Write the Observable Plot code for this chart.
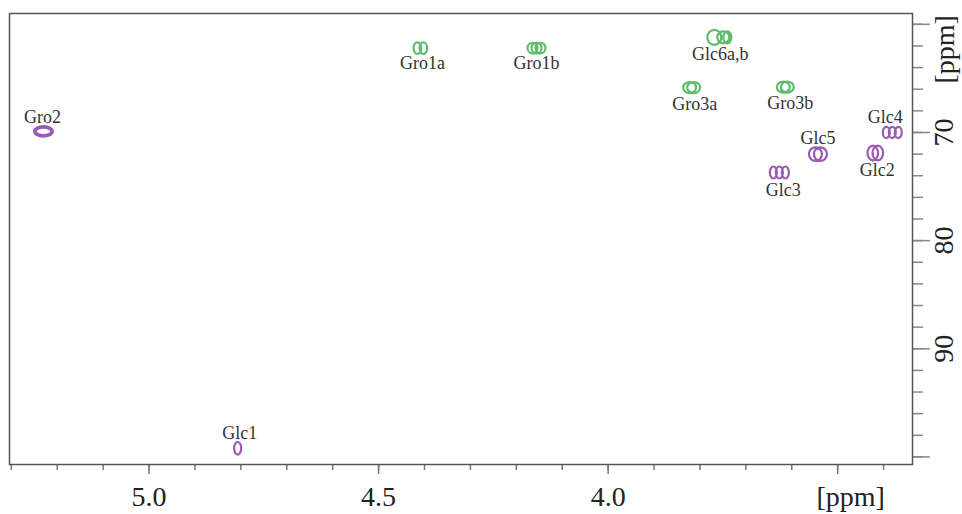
<!DOCTYPE html>
<html><head><meta charset="utf-8">
<script src="https://cdn.jsdelivr.net/npm/d3@7"></script>
<script src="https://cdn.jsdelivr.net/npm/@observablehq/plot@0.6"></script>
<style>html,body{margin:0;padding:0;background:#fff}</style>
</head><body><div id="chart"></div>
<script>
// ---- data ----
const peakLabels   = ["Gro1a","Gro1b","Glc6a,b","Gro3a","Gro3b","Gro2","Glc4","Glc5","Glc2","Glc3","Glc1"];
const protonShift  = [4.409, 4.156, 3.760, 3.818, 3.614, 5.230, 3.381, 3.543, 3.418, 3.627, 4.807];
const carbonShift  = [62.2, 62.2, 61.2, 65.85, 65.8, 69.9, 70.0, 72.0, 71.9, 73.7, 99.2];
const multiplicity = ["CH2","CH2","CH2","CH2","CH2","CH","CH","CH","CH","CH","CH"];

const xMajorTicks = [5.0, 4.5, 4.0, 3.5];
const xMinorTicks = [5.3,5.2,5.1,5.0,4.9,4.8,4.7,4.6,4.5,4.4,4.3,4.2,4.1,4.0,3.9,3.8,3.7,3.6,3.5,3.4];
const xTickLabels = ["5.0","4.5","4.0"];
const xTickLabelValues = [5.0, 4.5, 4.0];
const xUnitValue = [3.5];
const yMajorTicks = [60, 70, 80, 90, 100];
const yMinorTicks = [60,62,64,66,68,70,72,74,76,78,80,82,84,86,88,90,92,94,96,98,100];
const yTickLabels = ["70","80","90"];
const yTickLabelValues = [70, 80, 90];
const yUnitValue = [60];
const unitLabel = "[ppm]";

// ---- styles ----
const colors = {CH2: "#5fbc6c", CH: "#9a5cb2"};
const serif = "'Liberation Serif', 'DejaVu Serif', serif";
// contour shapes in pixels (lobes: dx offset, rx, ry)
const shapes = {
  "Gro1a":   [{dx:-3,rx:3.8,ry:5.8},{dx:3,rx:3.8,ry:5.8}],
  "Gro1b":   [{dx:-4,rx:5,ry:5.3},{dx:0,rx:5,ry:5.3},{dx:4,rx:5,ry:5.3}],
  "Glc6a,b": [{dx:-4,rx:7,ry:7.5},{dx:5,rx:6,ry:6},{dx:9,rx:4,ry:6}],
  "Gro3a":   [{dx:-2,rx:6.5,ry:5.5},{dx:2,rx:6.5,ry:5.5}],
  "Gro3b":   [{dx:-2,rx:6.5,ry:5.5},{dx:2,rx:6.5,ry:5.5}],
  "Gro2":    [{dx:0,rx:9.3,ry:5.2},{dx:0,rx:7.8,ry:3.8}],
  "Glc4":    [{dx:-6,rx:3.5,ry:5.6},{dx:0,rx:3.5,ry:5.6},{dx:6,rx:3.5,ry:5.6}],
  "Glc5":    [{dx:-2.5,rx:6.5,ry:6.8},{dx:2.5,rx:6.5,ry:6.8}],
  "Glc2":    [{dx:-2.5,rx:5.3,ry:7.3},{dx:2.5,rx:5.3,ry:7.3}],
  "Glc3":    [{dx:-6,rx:3.5,ry:6},{dx:0,rx:3.5,ry:6},{dx:6,rx:3.5,ry:6}],
  "Glc1":    [{dx:0,rx:3.5,ry:6.3}]
};
const labelOffset = {
  "Gro1a":[2,15], "Gro1b":[0,15], "Glc6a,b":[2,17], "Gro3a":[3,17], "Gro3b":[5,16],
  "Gro2":[-1,-14], "Glc4":[-7,-15], "Glc5":[0,-16], "Glc2":[2,17], "Glc3":[4,18], "Glc1":[2,-15]
};

function contourSymbol(lobes) {
  return {
    draw(ctx) {
      const k = 0.5523;
      for (const {dx, rx, ry} of lobes) {
        ctx.moveTo(dx + rx, 0);
        ctx.bezierCurveTo(dx + rx, k * ry, dx + k * rx, ry, dx, ry);
        ctx.bezierCurveTo(dx - k * rx, ry, dx - rx, k * ry, dx - rx, 0);
        ctx.bezierCurveTo(dx - rx, -k * ry, dx - k * rx, -ry, dx, -ry);
        ctx.bezierCurveTo(dx + k * rx, -ry, dx + rx, -k * ry, dx + rx, 0);
        ctx.closePath();
      }
    }
  };
}

const peaks = peakLabels.map((label, i) => ({label, h: protonShift[i], c: carbonShift[i], type: multiplicity[i]}));

const peakMarks = peaks.flatMap(p => [
  Plot.dot([p], {x: "h", y: "c", r: 6, symbol: contourSymbol(shapes[p.label]),
    stroke: colors[p.type], strokeWidth: 2.2, fill: "none"}),
  Plot.text([p], {x: "h", y: "c", text: "label", dx: labelOffset[p.label][0], dy: labelOffset[p.label][1],
    fontSize: 18, fontFamily: serif, fill: "#333", lineAnchor: "middle"})
]);

const chart = Plot.plot({
  width: 962,
  height: 514,
  marginLeft: 9,
  marginRight: 50,
  marginTop: 13,
  marginBottom: 50,
  style: {background: "#fff", fontFamily: serif},
  x: {domain: [5.304, 3.337]},
  y: {domain: [59, 100.7], reverse: true},
  marks: [
    Plot.axisX({ticks: xMinorTicks, tickSize: 6, tickFormat: () => "", stroke: "#777", strokeWidth: 1.5, label: null}),
    Plot.axisX({ticks: xMajorTicks, tickSize: 10, tickFormat: () => "", stroke: "#777", strokeWidth: 1.5, label: null}),
    Plot.axisY({anchor: "right", ticks: yMinorTicks, tickSize: 10, tickFormat: () => "", stroke: "#888", strokeWidth: 1.5, label: null}),
    Plot.axisY({anchor: "right", ticks: yMajorTicks, tickSize: 17, tickFormat: () => "", stroke: "#888", strokeWidth: 1.5, label: null}),
    Plot.frame({stroke: "#555", strokeWidth: 1.5}),
    Plot.text(xTickLabelValues, {x: d => d, text: (d, i) => xTickLabels[i], frameAnchor: "bottom", dy: 33,
      textAnchor: "middle", lineAnchor: "middle", fontSize: 28, fontFamily: serif, fill: "#222"}),
    Plot.text(xUnitValue, {x: d => d, text: () => unitLabel, frameAnchor: "bottom", dy: 33, dx: 13,
      textAnchor: "middle", lineAnchor: "middle", fontSize: 28, fontFamily: serif, fill: "#222"}),
    Plot.text(yTickLabelValues, {y: d => d, text: (d, i) => yTickLabels[i], frameAnchor: "right", dx: 32,
      rotate: -90, textAnchor: "middle", lineAnchor: "middle", fontSize: 28, fontFamily: serif, fill: "#222"}),
    Plot.text(yUnitValue, {y: d => d, text: () => unitLabel, frameAnchor: "right", dx: 33, dy: 25,
      rotate: -90, textAnchor: "middle", lineAnchor: "middle", fontSize: 28, fontFamily: serif, fill: "#222"}),
    ...peakMarks
  ]
});
document.getElementById("chart").append(chart);
</script>
</body></html>
